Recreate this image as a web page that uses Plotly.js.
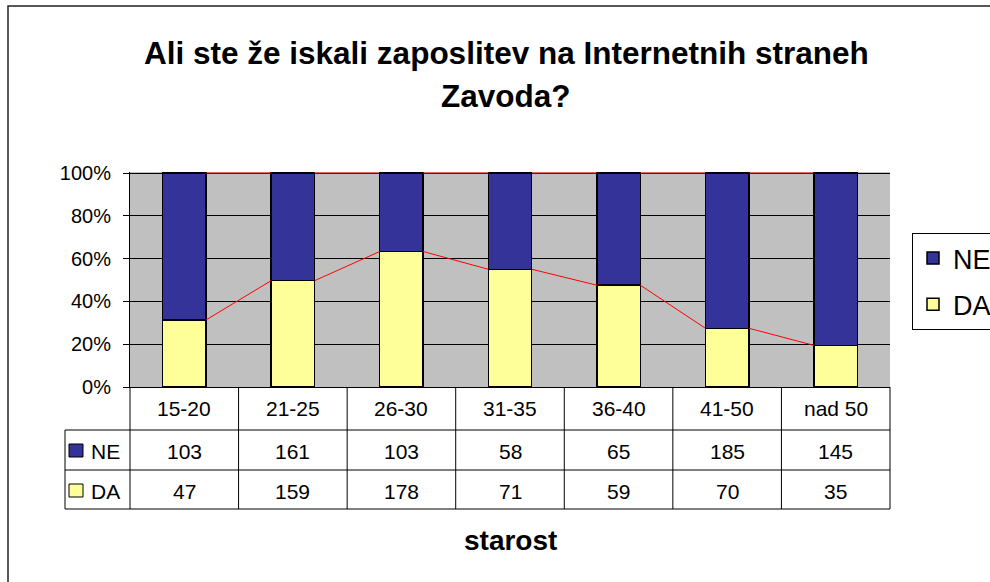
<!DOCTYPE html>
<html><head><meta charset="utf-8">
<script src="https://cdn.plot.ly/plotly-3.0.1.min.js"></script>
<style>html,body{margin:0;padding:0;background:#fff}#chart{width:990px;height:582px}</style>
</head><body><div id="chart"></div>
<script>
// ---- data ----
const categories = ['15-20','21-25','26-30','31-35','36-40','41-50','nad 50'];
const neValues = [103,161,103,58,65,185,145];
const daValues = [47,159,178,71,59,70,35];
const yTickVals = [0,20,40,60,80,100];
const yTickText = ['0%','20%','40%','60%','80%','100%'];
const titleLines = ['Ali ste že iskali zaposlitev na Internetnih straneh','Zavoda?'];
const xTitle = 'starost';

// ---- geometry helpers (pixel -> paper) ----
const L=130, R=890, T=172, B=387;
const px = x => (x-L)/(R-L);
const py = y => (B-y)/(B-T);
const FONT = 'Liberation Sans, Arial, sans-serif';
const NE_COLOR = '#333399', DA_COLOR = '#FFFF99';

const idx = categories.map((c,i)=>i);
const barW = 0.4;
const daPct = daValues.map((d,i)=> d/(d+neValues[i])*100);
const totPct = daValues.map((d,i)=> (d+neValues[i])/(d+neValues[i])*100);
const slX=[], slDA=[], slNE=[];
for (let i=0;i<categories.length-1;i++){
  slX.push(i+barW/2, i+1-barW/2, null);
  slDA.push(daPct[i], daPct[i+1], null);
  slNE.push(totPct[i], totPct[i+1], null);
}

const traces = [
  {type:'bar', x:idx, y:daValues, name:'DA', legendgroup:'da', legendrank:2, width:barW,
   marker:{color:DA_COLOR, line:{color:'#000', width:1.5}}, hoverinfo:'skip'},
  {type:'bar', x:idx, y:neValues, name:'NE', legendgroup:'ne', legendrank:1, width:barW,
   marker:{color:NE_COLOR, line:{color:'#000', width:1.5}}, hoverinfo:'skip'},
  {type:'scatter', mode:'lines', x:slX, y:slDA, line:{color:'#FF0000', width:1}, showlegend:false, hoverinfo:'skip', connectgaps:false, cliponaxis:false},
  {type:'scatter', mode:'lines', x:slX, y:slNE, line:{color:'#FF0000', width:1}, showlegend:false, hoverinfo:'skip', connectgaps:false, cliponaxis:false}
];

// ---- data table ----
const shapes = [];
const annotations = [];
const n = categories.length;
const line = (x0,y0,x1,y1,w)=>({type:'line', xref:'paper', yref:'paper', x0:px(x0), y0:py(y0), x1:px(x1), y1:py(y1), line:{color:'#000', width:w||1}});
for (let k=0;k<=n;k++){
  const xx = L + (R-L)*k/n;
  shapes.push(line(xx,387,xx,509));
}
shapes.push(line(65,430,R,430));
shapes.push(line(65,470,R,470));
shapes.push(line(65,509,R,509));
shapes.push(line(65,430,65,509));
// row marker squares
shapes.push({type:'rect', xref:'paper', yref:'paper', x0:px(69), x1:px(83), y0:py(444), y1:py(457), fillcolor:NE_COLOR, line:{color:'#000', width:1}});
shapes.push({type:'rect', xref:'paper', yref:'paper', x0:px(69), x1:px(83), y0:py(484), y1:py(497), fillcolor:DA_COLOR, line:{color:'#000', width:1}});
// outer frame
shapes.push({type:'rect', xref:'paper', yref:'paper', x0:px(8), x1:px(1005), y0:py(6), y1:py(600), line:{color:'#222', width:1.5}, fillcolor:'rgba(0,0,0,0)', layer:'below'});

const cellFont = {family:FONT, size:21, color:'#000'};
categories.forEach((c,i)=>{
  annotations.push({xref:'x', yref:'paper', x:i, y:py(408), text:c, showarrow:false, font:cellFont, xanchor:'center', yanchor:'middle'});
  annotations.push({xref:'x', yref:'paper', x:i, y:py(451), text:String(neValues[i]), showarrow:false, font:cellFont, xanchor:'center', yanchor:'middle'});
  annotations.push({xref:'x', yref:'paper', x:i, y:py(491), text:String(daValues[i]), showarrow:false, font:cellFont, xanchor:'center', yanchor:'middle'});
});
annotations.push({xref:'paper', yref:'paper', x:px(89), y:py(451), text:'NE', showarrow:false, font:cellFont, xanchor:'left', yanchor:'middle'});
annotations.push({xref:'paper', yref:'paper', x:px(89), y:py(491), text:'DA', showarrow:false, font:cellFont, xanchor:'left', yanchor:'middle'});

// titles
annotations.push({xref:'paper', yref:'paper', x:px(506), y:py(53), text:'<b>'+titleLines[0]+'</b>', showarrow:false, font:{family:FONT, size:31.5, color:'#000'}, xanchor:'center', yanchor:'middle'});
annotations.push({xref:'paper', yref:'paper', x:px(506), y:py(96), text:'<b>'+titleLines[1]+'</b>', showarrow:false, font:{family:FONT, size:31.5, color:'#000'}, xanchor:'center', yanchor:'middle'});
annotations.push({xref:'paper', yref:'paper', x:px(511), y:py(540), text:'<b>'+xTitle+'</b>', showarrow:false, font:{family:FONT, size:28, color:'#000'}, xanchor:'center', yanchor:'middle'});

const layout = {
  width:990, height:582,
  margin:{l:L, r:990-R, t:T, b:582-B, pad:0, autoexpand:false},
  paper_bgcolor:'#FFFFFF', plot_bgcolor:'#C0C0C0',
  font:{family:FONT, color:'#000'},
  barmode:'stack', barnorm:'percent',
  showlegend:true,
  legend:{x:px(912), xanchor:'left', y:py(233), yanchor:'top', bgcolor:'#FFFFFF', bordercolor:'#000', borderwidth:1,
          font:{family:FONT, size:27, color:'#000'}, traceorder:'grouped', tracegroupgap:8},
  xaxis:{range:[-0.5, n-0.5], showticklabels:false, showgrid:false, zeroline:false, showline:true, linecolor:'#000', linewidth:1, ticks:'', fixedrange:true},
  yaxis:{range:[0,100.5], tickvals:yTickVals, ticktext:yTickText, showgrid:true, gridcolor:'#000', gridwidth:1,
         ticks:'outside', ticklen:6, tickcolor:'#000', tickwidth:1, showline:true, linecolor:'#000', linewidth:1,
         zeroline:false, tickfont:{family:FONT, size:20, color:'#000'}, ticklabelstandoff:8, fixedrange:true},
  shapes:shapes, annotations:annotations
};

Plotly.newPlot('chart', traces, layout, {displayModeBar:false, staticPlot:true});
</script>
</body></html>
